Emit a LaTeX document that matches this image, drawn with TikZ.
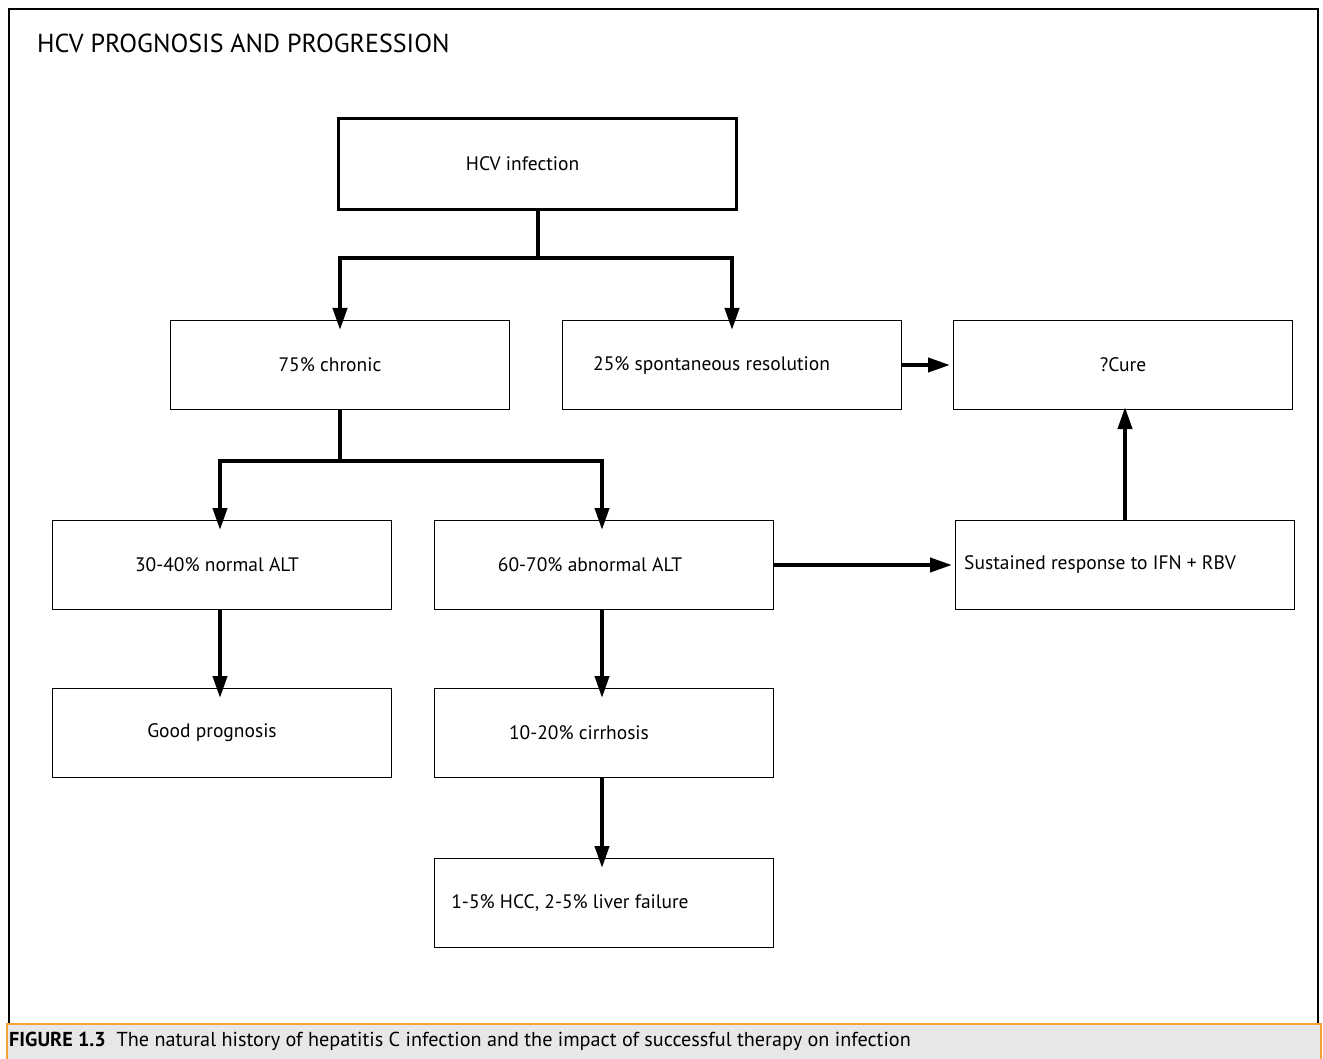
\documentclass[tikz,border=0pt]{standalone}
\usepackage{fontspec}
\setmainfont{PT Sans}
\usetikzlibrary{arrows.meta}
\definecolor{capgrey}{HTML}{E6E7E8}
\definecolor{caporange}{HTML}{F7A234}
\tikzset{
  box/.style={draw=black, line width=1pt, minimum width=339pt, minimum height=89pt, anchor=north west, inner sep=0pt},
  thickbox/.style={box, line width=3.2pt, minimum width=398pt, minimum height=91pt},
  lbl/.style={font=\fontsize{19.5}{22}\selectfont, inner sep=0pt},
  conn/.style={line width=4pt, -{Triangle[length=22pt,width=14pt]}},
  plain/.style={line width=4pt},
}
\begin{document}
\begin{tikzpicture}[x=1pt,y=-1pt]
\useasboundingbox (0,0) rectangle (1323,1059);
% frame
\draw[line width=2.5pt] (9,1023) -- (9,9) -- (1318,9) -- (1318,1023);
\filldraw[draw=caporange, fill=capgrey, line width=2pt] (7,1024) rectangle (1321,1062);
\node[anchor=west, inner sep=0pt, font=\fontsize{20.2}{24}\selectfont] (caption) at (9,1041)
  {\textbf{FIGURE 1.3}\ \ The natural history of hepatitis C infection and the impact of successful therapy on infection};
\node[anchor=west, inner sep=0pt, font=\fontsize{26}{30}\selectfont] (title) at (37,43) {HCV PROGNOSIS AND PROGRESSION};
% boxes
\node[thickbox] (hcv) at (337,117) {};
\node[box] (chronic) at (170,320) {};
\node[box] (spont) at (562,320) {};
\node[box] (cure) at (953,320) {};
\node[box] (normal) at (52,520) {};
\node[box] (abnormal) at (434,520) {};
\node[box] (sust) at (955,520) {};
\node[box] (good) at (52,688) {};
\node[box] (cirr) at (434,688) {};
\node[box] (hcc) at (434,858) {};
% texts
\node[lbl] (t-hcv) at ([xshift=-15pt]hcv.center) {HCV infection};
\node[lbl] (t-chronic) at ([xshift=-10pt]chronic.center) {75\% chronic};
\node[lbl, anchor=west] (t-spont) at ([xshift=31pt]spont.west) {25\% spontaneous resolution};
\node[lbl] (t-cure) at (cure.center) {?Cure};
\node[lbl] (t-normal) at ([xshift=-5pt]normal.center) {30-40\% normal ALT};
\node[lbl] (t-abnormal) at ([xshift=-14pt]abnormal.center) {60-70\% abnormal ALT};
\node[lbl, anchor=west] (t-sust) at ([xshift=9pt]sust.west) {Sustained response to IFN + RBV};
\node[lbl] (t-good) at ([xshift=-10pt]good.center) {Good prognosis};
\node[lbl] (t-cirr) at ([xshift=-25pt]cirr.center) {10-20\% cirrhosis};
\node[lbl] (t-hcc) at ([xshift=-34pt]hcc.center) {1-5\% HCC, 2-5\% liver failure};
% connectors
\coordinate (j1) at (hcv.south |- 0,258);
\draw[plain] (hcv.south) -- (j1);
\draw[conn] ([xshift=2pt]j1) -| ([yshift=-10pt]chronic.north);
\draw[conn] ([xshift=-2pt]j1) -| ([yshift=-10pt]spont.north);
\coordinate (j2) at (chronic.south |- 0,461);
\draw[plain] (chronic.south) -- (j2);
\draw[conn] ([xshift=2pt]j2) -| ([xshift=-2pt, yshift=-10pt]normal.north);
\draw[conn] ([xshift=-2pt]j2) -| ([xshift=-2pt, yshift=-10pt]abnormal.north);
\draw[conn] (spont.east) -- ([xshift=-3pt]cure.west);
\draw[conn] (abnormal.east) -- ([xshift=-3pt]sust.west);
\draw[conn] (sust.north) -- ([yshift=3pt]sust.north |- cure.south);
\draw[conn] ([xshift=-2pt]normal.south) -- ([xshift=-2pt,yshift=-10pt]good.north);
\draw[conn] ([xshift=-2pt]abnormal.south) -- ([xshift=-2pt,yshift=-10pt]cirr.north);
\draw[conn] ([xshift=-2pt]cirr.south) -- ([xshift=-2pt,yshift=-10pt]hcc.north);
\end{tikzpicture}
\end{document}
